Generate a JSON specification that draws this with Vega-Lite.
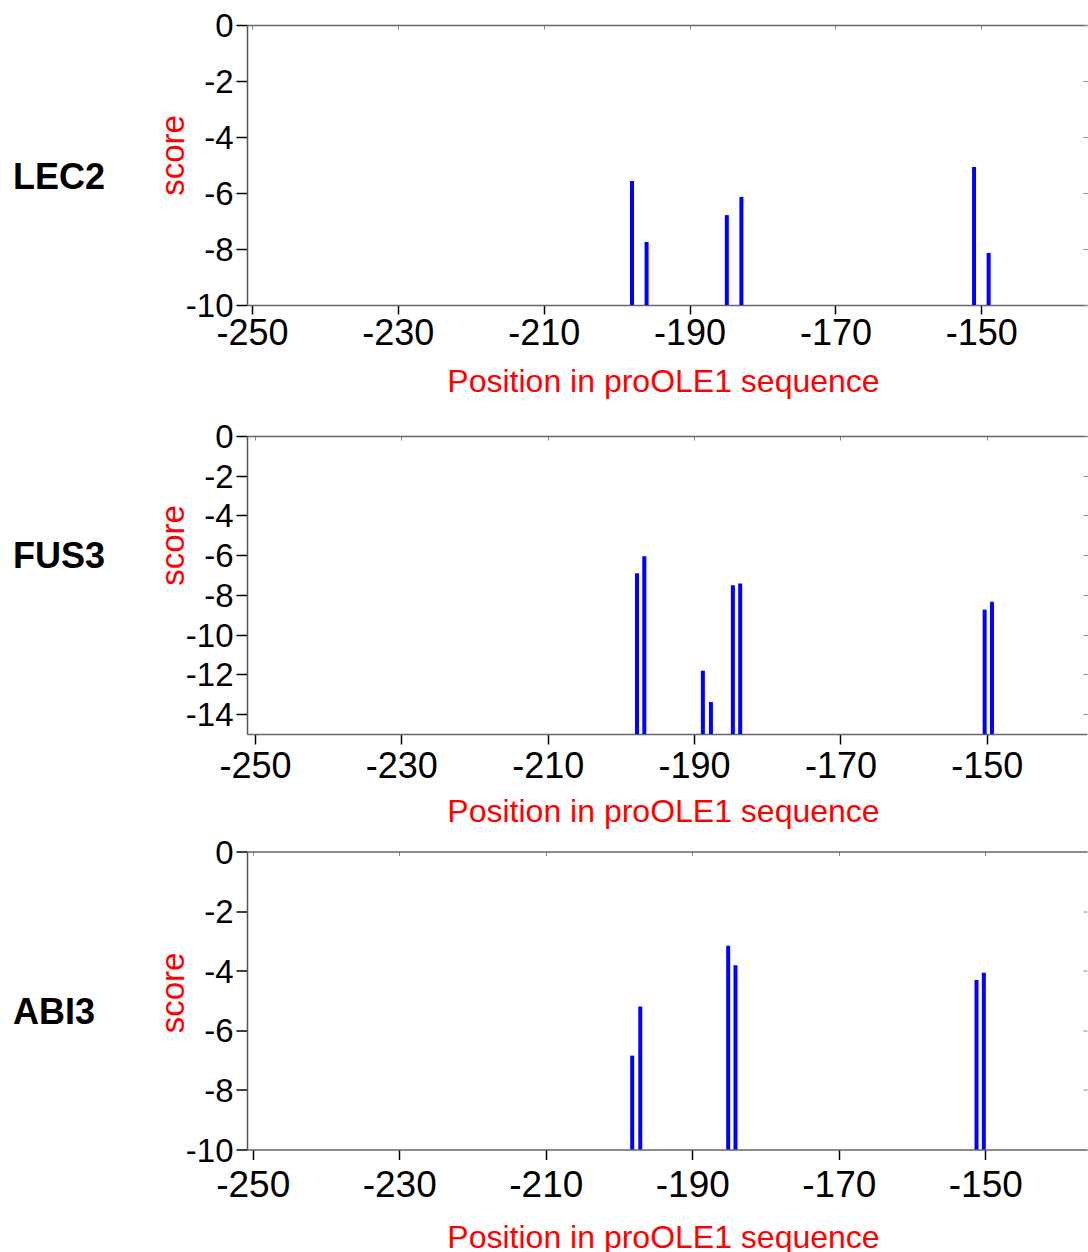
{
  "$schema": "https://vega.github.io/schema/vega-lite/v6.json",
  "padding": {"left": 12, "top": 10, "right": 0, "bottom": 0},
  "config": {
    "view": {"stroke": null},
    "axis": {"labelFont": "Liberation Sans", "titleFont": "Liberation Sans", "grid": false, "labelColor": "black"},
    "title": {"font": "Liberation Sans"}
  },
  "data": {
    "values": [
      {"tf": "LEC2", "position": -197.9, "score": -5.57},
      {"tf": "LEC2", "position": -195.9, "score": -7.75},
      {"tf": "LEC2", "position": -184.9, "score": -6.79},
      {"tf": "LEC2", "position": -182.9, "score": -6.14},
      {"tf": "LEC2", "position": -151.0, "score": -5.07},
      {"tf": "LEC2", "position": -149.0, "score": -8.14},
      {"tf": "FUS3", "position": -197.8, "score": -6.91},
      {"tf": "FUS3", "position": -196.8, "score": -6.05},
      {"tf": "FUS3", "position": -188.8, "score": -11.81},
      {"tf": "FUS3", "position": -187.7, "score": -13.39},
      {"tf": "FUS3", "position": -184.7, "score": -7.51},
      {"tf": "FUS3", "position": -183.7, "score": -7.43},
      {"tf": "FUS3", "position": -150.3, "score": -8.74},
      {"tf": "FUS3", "position": -149.3, "score": -8.34},
      {"tf": "ABI3", "position": -198.2, "score": -6.85},
      {"tf": "ABI3", "position": -197.1, "score": -5.2},
      {"tf": "ABI3", "position": -185.1, "score": -3.16},
      {"tf": "ABI3", "position": -184.1, "score": -3.82},
      {"tf": "ABI3", "position": -151.2, "score": -4.31},
      {"tf": "ABI3", "position": -150.2, "score": -4.07}
    ]
  },
  "spacing": 9.5,
  "vconcat": [
    {
      "spacing": 24,
      "vconcat": [
        {
          "width": 840,
          "height": 280,
          "title": {"text": "LEC2", "orient": "left", "angle": 0, "align": "left", "baseline": "alphabetic", "anchor": "middle", "frame": "group", "offset": 52, "dy": 23.8, "fontSize": 36, "fontWeight": "bold", "color": "black"},
          "transform": [{"filter": "datum.tf === 'LEC2'"}],
          "layer": [
            {
              "mark": {"type": "bar", "color": "#0000ff", "width": 4},
              "encoding": {
                "x": {"field": "position", "type": "quantitative",
                  "scale": {"domain": [-250, -136.2], "nice": false, "zero": false},
                  "axis": {"orient": "bottom", "values": [-250, -230, -210, -190, -170, -150], "labelExpr": "toString(datum.value)", "labelFlush": false, "labelOverlap": false, "labelFontSize": 36, "labelPadding": 2, "tickSize": 9, "tickColor": "black", "tickWidth": 1.5, "domainColor": "#666", "domainWidth": 1.5, "title": "Position in proOLE1 sequence", "titleFontSize": 32, "titleFontWeight": "normal", "titleColor": "#ff0000", "titleX": 416, "titleY": 86, "titleBaseline": "alphabetic", "titleAlign": "center"}},
                "y": {"field": "score", "type": "quantitative",
                  "scale": {"domain": [-10, 0], "nice": false, "zero": false},
                  "axis": {"orient": "left", "values": [0, -2, -4, -6, -8, -10], "labelExpr": "toString(datum.value)", "labelOverlap": false, "labelFontSize": 33, "labelPadding": 3, "labelOffset": 1.5, "tickSize": 11, "tickColor": "black", "tickWidth": 1.5, "domainColor": "#555", "domainWidth": 1.5, "title": "score", "titleFontSize": 33, "titleFontWeight": "normal", "titleColor": "#ff0000", "titleAngle": 270, "titleX": -64, "titleY": 130, "titleBaseline": "alphabetic", "titleAlign": "center"}},
                "y2": {"datum": -10}
              }
            },
            {
              "mark": {"type": "point", "opacity": 0},
              "encoding": {
                "x": {"field": "position", "type": "quantitative",
                  "scale": {"domain": [-250, -136.2], "nice": false, "zero": false},
                  "axis": {"orient": "top", "values": [-250, -230, -210, -190, -170, -150], "labels": false, "tickSize": -4, "tickColor": "#888", "domainColor": "#666", "domainWidth": 1.5, "title": null}},
                "y": {"field": "score", "type": "quantitative",
                  "scale": {"domain": [-10, 0], "nice": false, "zero": false},
                  "axis": {"orient": "right", "values": [0, -2, -4, -6, -8, -10], "labels": false, "tickSize": -4, "tickColor": "#888", "domain": false, "title": null}}
              }
            }
          ]
        },
        {
          "width": 840,
          "height": 298,
          "title": {"text": "FUS3", "orient": "left", "angle": 0, "align": "left", "baseline": "alphabetic", "anchor": "middle", "frame": "group", "offset": 52, "dy": -17.3, "fontSize": 36, "fontWeight": "bold", "color": "black"},
          "transform": [{"filter": "datum.tf === 'FUS3'"}],
          "layer": [
            {
              "mark": {"type": "bar", "color": "#0000ff", "width": 4},
              "encoding": {
                "x": {"field": "position", "type": "quantitative",
                  "scale": {"domain": [-250.4, -137], "nice": false, "zero": false},
                  "axis": {"orient": "bottom", "values": [-250, -230, -210, -190, -170, -150], "labelExpr": "toString(datum.value)", "labelFlush": false, "labelOverlap": false, "labelFontSize": 36, "labelPadding": 5, "tickSize": 10, "tickColor": "black", "tickWidth": 1.5, "domainColor": "#666", "domainWidth": 1.5, "title": "Position in proOLE1 sequence", "titleFontSize": 32, "titleFontWeight": "normal", "titleColor": "#ff0000", "titleX": 416, "titleY": 87, "titleBaseline": "alphabetic", "titleAlign": "center"}},
                "y": {"field": "score", "type": "quantitative",
                  "scale": {"domain": [-15, 0], "nice": false, "zero": false},
                  "axis": {"orient": "left", "values": [0, -2, -4, -6, -8, -10, -12, -14], "labelExpr": "toString(datum.value)", "labelOverlap": false, "labelFontSize": 33, "labelPadding": 3, "labelOffset": 1.5, "tickSize": 11, "tickColor": "black", "tickWidth": 1.5, "domainColor": "#555", "domainWidth": 1.5, "title": "score", "titleFontSize": 33, "titleFontWeight": "normal", "titleColor": "#ff0000", "titleAngle": 270, "titleX": -64, "titleY": 109, "titleBaseline": "alphabetic", "titleAlign": "center"}},
                "y2": {"datum": -15}
              }
            },
            {
              "mark": {"type": "point", "opacity": 0},
              "encoding": {
                "x": {"field": "position", "type": "quantitative",
                  "scale": {"domain": [-250.4, -137], "nice": false, "zero": false},
                  "axis": {"orient": "top", "values": [-250, -230, -210, -190, -170, -150], "labels": false, "tickSize": -4, "tickColor": "#888", "domainColor": "#666", "domainWidth": 1.5, "title": null}},
                "y": {"field": "score", "type": "quantitative",
                  "scale": {"domain": [-15, 0], "nice": false, "zero": false},
                  "axis": {"orient": "right", "values": [0, -2, -4, -6, -8, -10, -12, -14], "labels": false, "tickSize": -4, "tickColor": "#888", "domain": false, "title": null}}
              }
            }
          ]
        }
      ]
    },
    {
      "width": 840,
      "height": 298,
      "title": {"text": "ABI3", "orient": "left", "angle": 0, "align": "left", "baseline": "alphabetic", "anchor": "middle", "frame": "group", "offset": 52, "dx": -10, "dy": 23.7, "fontSize": 36, "fontWeight": "bold", "color": "black"},
      "transform": [{"filter": "datum.tf === 'ABI3'"}],
      "layer": [
        {
          "mark": {"type": "bar", "color": "#0000ff", "width": 4},
          "encoding": {
            "x": {"field": "position", "type": "quantitative",
              "scale": {"domain": [-250.1, -136.8], "nice": false, "zero": false},
              "axis": {"orient": "bottom", "values": [-250, -230, -210, -190, -170, -150], "labelExpr": "toString(datum.value)", "labelFlush": false, "labelOverlap": false, "labelFontSize": 37, "labelPadding": 8, "tickSize": 10, "tickColor": "black", "tickWidth": 1.5, "domainColor": "#666", "domainWidth": 1.5, "title": "Position in proOLE1 sequence", "titleFontSize": 32, "titleFontWeight": "normal", "titleColor": "#ff0000", "titleX": 416, "titleY": 97.5, "titleBaseline": "alphabetic", "titleAlign": "center"}},
            "y": {"field": "score", "type": "quantitative",
              "scale": {"domain": [-10, 0], "nice": false, "zero": false},
              "axis": {"orient": "left", "values": [0, -2, -4, -6, -8, -10], "labelExpr": "toString(datum.value)", "labelOverlap": false, "labelFontSize": 33, "labelPadding": 3, "labelOffset": 1.5, "tickSize": 11, "tickColor": "black", "tickWidth": 1.5, "domainColor": "#555", "domainWidth": 1.5, "title": "score", "titleFontSize": 33, "titleFontWeight": "normal", "titleColor": "#ff0000", "titleAngle": 270, "titleX": -64, "titleY": 141, "titleBaseline": "alphabetic", "titleAlign": "center"}},
            "y2": {"datum": -10}
          }
        },
        {
          "mark": {"type": "point", "opacity": 0},
          "encoding": {
            "x": {"field": "position", "type": "quantitative",
              "scale": {"domain": [-250.1, -136.8], "nice": false, "zero": false},
              "axis": {"orient": "top", "values": [-250, -230, -210, -190, -170, -150], "labels": false, "tickSize": -4, "tickColor": "#888", "domainColor": "#666", "domainWidth": 1.5, "title": null}},
            "y": {"field": "score", "type": "quantitative",
              "scale": {"domain": [-10, 0], "nice": false, "zero": false},
              "axis": {"orient": "right", "values": [0, -2, -4, -6, -8, -10], "labels": false, "tickSize": -4, "tickColor": "#888", "domain": false, "title": null}}
          }
        }
      ]
    }
  ]
}
